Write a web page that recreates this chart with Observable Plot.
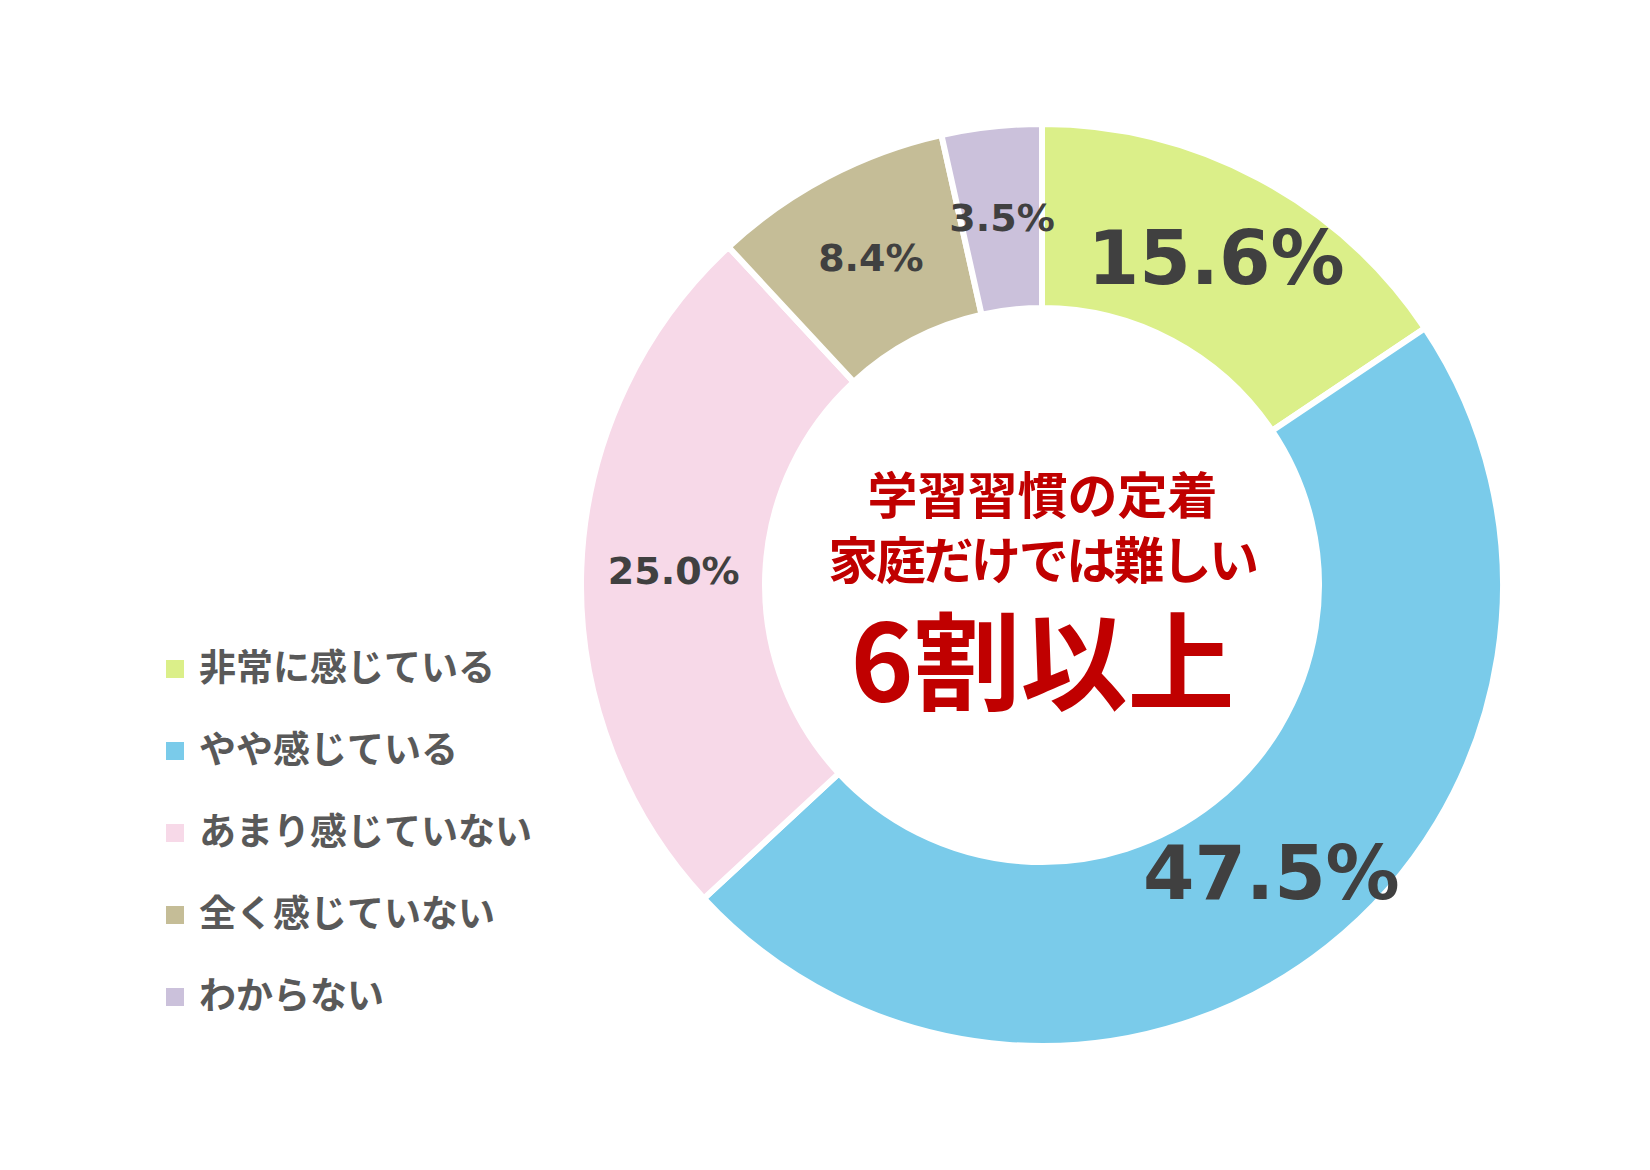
<!DOCTYPE html>
<html>
<head>
<meta charset="utf-8">
<script src="https://cdn.jsdelivr.net/npm/d3@7"></script>
<script src="https://cdn.jsdelivr.net/npm/@observablehq/plot@0.6"></script>
<style>
  html, body { margin: 0; padding: 0; background: #fff; }
  #wrap { position: relative; width: 1650px; height: 1170px; }
  #legend { position: absolute; left: 166px; top: 624px; font-family: "Noto Sans CJK JP", sans-serif; font-weight: 700; font-size: 37px; color: #595959; }
  .item { display: flex; align-items: center; height: 82px; }
  .sw { width: 18px; height: 18px; margin-right: 15px; margin-top: 8px; flex: none; }
</style>
</head>
<body>
<div id="wrap"><div id="legend"></div></div>
<script>
// ---- data ----
const categories = ["非常に感じている", "やや感じている", "あまり感じていない", "全く感じていない", "わからない"];
const values = [15.6, 47.5, 25.0, 8.4, 3.5];
const colors = ["#DBEF89", "#7ACBEA", "#F7D9E8", "#C5BD97", "#CBC1DB"];
const centerLines = ["学習習慣の定着", "家庭だけでは難しい"];
const headline = "6割以上";

// ---- layout ----
const W = 1650, H = 1170, CX = 1042, CY = 585, R = 458, RIN = 280, GAP = 6;
const MID = (R + RIN) / 2 / R;

const rows = categories.map((c, i) => ({label: c, value: values[i]}));
const slices = d3.pie().sort(null).value(d => d.value)(rows);
const midA = d => (d.startAngle + d.endAngle) / 2;
const spacing = (ls) => (index, scales, vals, dims, ctx, next) => {
  const g = next(index, scales, vals, dims, ctx);
  g.setAttribute("letter-spacing", ls);
  return g;
};

const chart = Plot.plot({
  width: W,
  height: H,
  margin: 0,
  x: {domain: [-CX / R, (W - CX) / R], axis: null},
  y: {domain: [-(H - CY) / R, CY / R], axis: null},
  color: {domain: categories, range: colors},
  style: {background: "#fff"},
  marks: [
    Plot.dot(slices, {
      x: () => 0, y: () => 0, fill: d => d.data.label,
      render(index, scales, vals) {
        const cx = scales.x(0), cy = scales.y(0);
        const k = scales.x(1) - scales.x(0);
        const arc = d3.arc().innerRadius(k * RIN / R - GAP / 2).outerRadius(k + GAP / 2);
        const g = d3.create("svg:g").attr("transform", `translate(${cx},${cy})`);
        for (const i of index) {
          g.append("path").attr("d", arc(slices[i]))
            .attr("fill", vals.fill[i]).attr("stroke", "#fff").attr("stroke-width", GAP);
        }
        return g.node();
      }
    }),
    Plot.text(slices, {
      x: d => MID * Math.sin(midA(d)),
      y: d => MID * Math.cos(midA(d)),
      text: d => d.data.value.toFixed(1) + "%",
      fontSize: d => d.index < 2 ? 74 : 38,
      fontWeight: "bold",
      fontFamily: "DejaVu Sans",
      fill: "#404040"
    }),
    Plot.text([centerLines[0]], {x: () => 0, y: () => 0, dy: -88, text: d => d, fontSize: 50, fontWeight: "bold", fontFamily: "Noto Sans CJK JP", fill: "#C00000"}),
    Plot.text([centerLines[1]], {x: () => 0, y: () => 0, dy: -23, text: d => d, fontSize: 50, fontWeight: "bold", fontFamily: "Noto Sans CJK JP", fill: "#C00000", render: spacing(-2.4)}),
    Plot.text([headline], {x: () => 0, y: () => 0, dy: 82, text: d => d, fontSize: 107, fontWeight: "bold", fontFamily: "Noto Sans CJK JP", fill: "#C00000"})
  ]
});
document.getElementById("wrap").prepend(chart);

const legend = d3.select("#legend");
categories.forEach((c, i) => {
  const it = legend.append("div").attr("class", "item");
  it.append("div").attr("class", "sw").style("background", colors[i]);
  it.append("span").text(c);
});
</script>
</body>
</html>
